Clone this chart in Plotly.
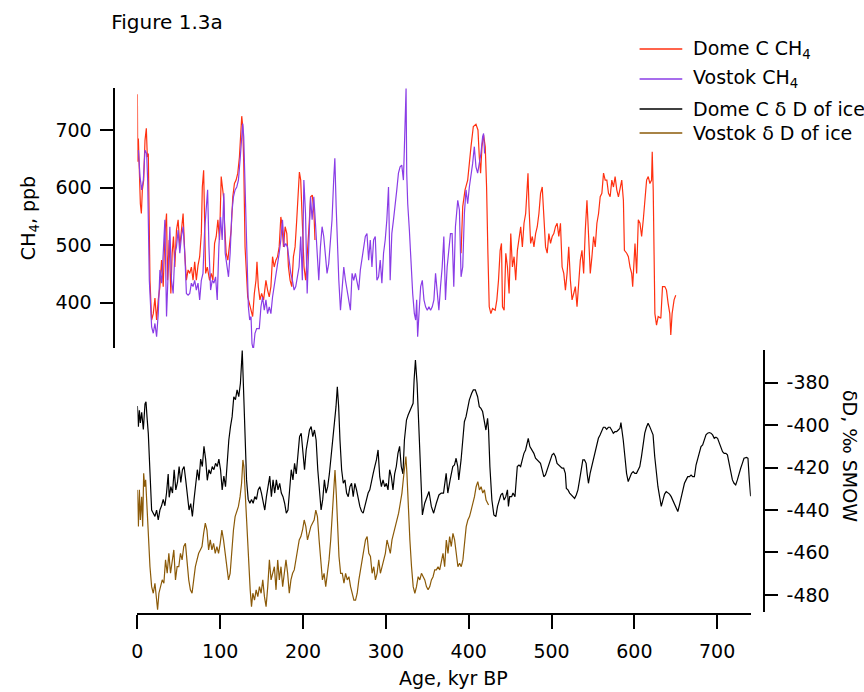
import plotly.graph_objects as go

# ---------------- data ----------------
X_TICKS = [0, 100, 200, 300, 400, 500, 600, 700]
CH4_TICKS = [400, 500, 600, 700]
DD_TICKS = [-480, -460, -440, -420, -400, -380]
DD_TICK_LABELS = ["-480", "-460", "-440", "-420", "-400", "-380"]

# Dome C CH4 (age kyr BP, ppb); None marks the gap in the record
dome_ch4_pts = [
    (0, 762), (0.4, 645), (1.2, 685), (2.4, 619), (3.6, 572), (4.8, 555), (6, 596), (7.6, 613),
    (9.2, 682), (10.8, 703), (12, 653), (13.2, 659), (14, 567), (15.2, 439), (17.2, 370),
    (19.2, 381), (21.2, 408), (23.2, 370), (25.2, 405), (27.2, 428), (29.2, 474), (31.2, 428),
    (33.2, 520), (35.2, 555), (36.4, 439), (38.4, 509), (40.4, 416), (42, 486), (43.6, 515),
    (45.2, 462), (47.2, 526), (49.2, 544), (51.2, 497), (53.2, 532), (55.2, 555), (57.2, 486),
    (59.2, 439), (61.2, 457), (63.2, 451), (65.2, 462), (67.2, 439), (69.2, 471), (71.2, 439),
    (73.2, 465), (75.2, 480), (77.2, 520), (78.4, 601), (80, 630), (81.2, 526), (82.4, 451),
    (84.4, 462), (87.2, 439), (89.2, 451), (91.2, 439), (93.2, 503), (95.2, 515), (97.2, 544),
    (99.2, 509), (101.2, 619), (102.4, 607), (104, 584), (105.2, 538), (107.2, 486), (109.2, 474),
    (111.2, 497), (113.2, 526), (115.2, 584), (117.2, 607), (119.2, 613), (121.2, 625),
    (123.2, 653), (124.4, 694), (126, 724), (127.2, 706), (128.4, 642), (130, 497), (131.6, 439),
    (133.2, 410), (135.2, 399), (137.2, 387), (139.2, 376), (141.2, 416), (143.2, 439),
    (144.4, 471), (146, 428), (148, 405), (150, 416), (152.4, 405), (155.2, 439), (157.2, 422),
    (159.2, 410), (161.2, 428), (163.2, 480), (165.2, 462), (167.2, 474), (169.2, 480),
    (171.2, 497), (173.2, 549), (174.4, 538), (176.4, 497), (178.4, 532), (180.4, 520),
    (182.4, 462), (184.4, 439), (186.4, 428), (188.4, 480), (190.4, 497), (192.4, 544),
    (194, 590), (195.6, 627), (197.2, 613), (199.2, 526), (201.2, 462), (203.2, 439),
    (205.2, 497), (207.2, 532), (209.2, 584), (211.2, 587), (213.2, 555), (214.4, 509),
    (300, None),
    (390.8, 486), (392.8, 567), (395.6, 596), (398.8, 613), (402.8, 671), (405.6, 706),
    (408.8, 710), (411.2, 700), (412.8, 653), (414.4, 625), (416, 671), (418, 691), (420, 671),
    (421.6, 601), (423.2, 486), (424.8, 393), (426.8, 381), (428.8, 390), (432, 387), (434, 405),
    (436, 439), (438, 491), (439.6, 503), (440.8, 393), (442.8, 387), (444.8, 486), (446.8, 462),
    (448.8, 416), (450.8, 520), (452.8, 462), (454.8, 480), (456.8, 439), (458.8, 491),
    (460.8, 515), (462.8, 532), (464.8, 497), (466.8, 538), (468.8, 555), (470.4, 613),
    (471.6, 625), (472.8, 567), (474.8, 503), (476.8, 515), (478.8, 497), (480.8, 520),
    (482.8, 532), (484.8, 555), (486.8, 590), (488.8, 601), (490.8, 549), (492.8, 497),
    (494.8, 486), (496.8, 520), (498.8, 503), (500.8, 515), (502.8, 520), (504.8, 532),
    (506.8, 538), (508.8, 515), (510.8, 538), (512.8, 462), (514.8, 451), (516.8, 422),
    (518.8, 451), (520.8, 497), (522.8, 439), (524.8, 405), (526.8, 416), (528.8, 428),
    (530.8, 393), (532.8, 428), (534.8, 474), (536.8, 491), (538.8, 451), (540.8, 526),
    (542.8, 578), (544.8, 515), (546.8, 451), (548.8, 480), (550.8, 515), (552.8, 497),
    (554.8, 538), (556.8, 555), (558.8, 584), (560.8, 590), (562.8, 625), (564.8, 613),
    (566.8, 613), (568.8, 590), (570.8, 584), (572.8, 613), (574.8, 601), (576.8, 619),
    (578.8, 596), (580.8, 584), (582.8, 601), (584.8, 613), (586.8, 578), (588, 491),
    (590.8, 486), (592.8, 480), (594.8, 462), (596.8, 451), (598, 428), (599.6, 474),
    (600.8, 503), (602.8, 451), (604.8, 544), (606.8, 538), (608.8, 515), (610.8, 544),
    (612.8, 578), (614.8, 613), (616.8, 619), (618.8, 607), (620.8, 613), (621.6, 662),
    (622.8, 596), (624, 439), (624.8, 381), (626.8, 361), (628.8, 376), (632, 373), (634, 428),
    (636.8, 428), (638.8, 422), (640.8, 399), (642.8, 381), (644, 344), (645.6, 381), (648, 405),
    (650, 413),
]

# Vostok CH4 (age kyr BP, ppb)
vostok_ch4_pts = [
    (1.2, 665), (3.2, 619), (5.2, 596), (7.2, 613), (9.2, 665), (11.2, 659), (12.4, 613),
    (13.2, 526), (14.4, 439), (16, 393), (17.2, 358), (19.2, 347), (21.2, 364), (23.2, 341),
    (25.2, 381), (27.2, 457), (29.2, 434), (31.2, 486), (33.2, 544), (35.2, 376), (37.2, 474),
    (39.2, 532), (41.2, 439), (43.2, 416), (45.2, 486), (47.2, 497), (49.2, 526), (51.2, 486),
    (53.2, 515), (55.2, 532), (57.2, 486), (59.2, 416), (61.2, 413), (63.2, 416), (65.2, 434),
    (67.2, 428), (69.2, 439), (71.2, 422), (73.2, 434), (75.2, 405), (77.2, 439), (79.2, 451),
    (81.2, 526), (83.2, 567), (84.8, 596), (86.4, 497), (88.4, 422), (90.4, 439), (92.4, 434),
    (94.4, 445), (96.4, 405), (98.4, 497), (100.4, 549), (102.4, 509), (104.4, 590), (106, 486),
    (108, 462), (110, 445), (112, 486), (114, 555), (116, 584), (118, 596), (120, 601), (122, 613),
    (124, 648), (126, 694), (127.2, 711), (128.4, 688), (129.6, 625), (130.8, 515), (132.4, 439),
    (134, 393), (135.6, 370), (137.2, 376), (138.4, 329), (140, 318), (142, 347), (144, 355),
    (147.2, 355), (149.2, 393), (151.2, 410), (153.2, 387), (155.2, 405), (157.2, 381),
    (159.2, 393), (161.2, 381), (163.2, 410), (165.2, 428), (167.2, 451), (169.2, 462),
    (171.2, 486), (173.2, 509), (175.2, 544), (177.2, 497), (179.2, 503), (181.2, 497),
    (183.2, 474), (185.2, 451), (187.2, 439), (189.2, 422), (191.2, 428), (193.2, 445),
    (195.2, 462), (197.2, 515), (199.2, 439), (201, 613), (203, 555), (205, 416), (207, 520),
    (209, 584), (211, 544), (213, 584), (215, 538), (217, 480), (219, 439), (221, 497), (223, 532),
    (225, 515), (227, 480), (229, 451), (231, 468), (233, 515), (235, 544), (237, 613),
    (238.4, 651), (240, 567), (241.2, 509), (243.2, 439), (245.2, 387), (247.2, 422),
    (249.2, 462), (251.2, 439), (253.2, 422), (255.2, 405), (257.2, 387), (259.2, 451),
    (261.2, 439), (263.2, 451), (265.2, 439), (267.2, 422), (269.2, 457), (271.2, 474),
    (273.2, 497), (275.2, 515), (277.2, 520), (279.2, 474), (281.2, 509), (283.2, 462),
    (285.2, 509), (287.2, 515), (289.2, 439), (291.2, 445), (293.2, 474), (295.2, 434),
    (297.2, 486), (299.2, 509), (301.2, 544), (303.2, 601), (305.2, 439), (307.2, 520),
    (309.2, 544), (311.2, 567), (313.2, 596), (315.2, 625), (317.2, 636), (319.2, 639),
    (321.2, 613), (322.4, 671), (323.6, 752), (324.4, 772), (325.2, 625), (326.4, 572),
    (328.4, 526), (330.4, 462), (332.4, 416), (334.4, 381), (336, 370), (337.2, 405),
    (338.4, 341), (340, 381), (342, 428), (344, 439), (346, 405), (348, 393), (350, 387),
    (352, 393), (354, 387), (356, 393), (358, 405), (360, 451), (362, 416), (364, 387),
    (366, 428), (368, 462), (370, 515), (372, 405), (374, 462), (376, 497), (378, 520),
    (380, 520), (382, 428), (384, 532), (386.8, 578), (388.8, 561), (390.8, 445), (392.8, 462),
    (394.8, 555), (396.8, 596), (398.8, 572), (400.8, 601), (402.8, 619), (404.8, 642),
    (406.8, 671), (408.8, 636), (410.8, 625), (412.8, 642), (414.8, 659), (416.8, 688),
    (418, 694), (419.2, 659),
]

# Dome C deltaD of ice (age kyr BP, permil SMOW)
dome_dd_pts = [
    (0, -391), (1.2, -400.7), (2.4, -393), (3.6, -399), (5.2, -394), (7.2, -402), (9.2, -390),
    (10.4, -389), (11.6, -396), (13.2, -404), (14.4, -415), (15.6, -426), (17.2, -440),
    (19.2, -441.5), (21.2, -443), (23.2, -440), (25.2, -444.7), (27.2, -440), (29.2, -438),
    (31.2, -435), (33.2, -438), (35.2, -432), (37.2, -423), (38.4, -434), (40.4, -429),
    (42.4, -432), (44.4, -421), (46.4, -430.5), (48.4, -427), (50.4, -419.5), (52.4, -427),
    (54.4, -421), (56.4, -419.5), (58.4, -426), (60.4, -434), (62.4, -440), (64.4, -437),
    (66.4, -443), (68.4, -435), (70.4, -429), (72.4, -421), (74.4, -426), (76.4, -416),
    (78.4, -419.5), (80.4, -410), (82.4, -416), (84.4, -426), (86.4, -421), (88.4, -423),
    (90.4, -419.5), (92.4, -421), (94.4, -418), (96.4, -419.5), (98.4, -416), (100.4, -421),
    (102.4, -430.5), (104.4, -424), (106.4, -429), (108.4, -415), (110.4, -407), (112.4, -400.7),
    (114.4, -396), (116.4, -386.6), (118.4, -388), (120.4, -383.4), (122.4, -386.6),
    (124.4, -380.3), (125.8, -369.3), (126.6, -364.8), (127.8, -378.7), (129, -391.3),
    (130.2, -407), (131.8, -425.8), (133.8, -435), (135.8, -436.8), (137.8, -435),
    (139.8, -436.8), (141.8, -433.7), (143.8, -435), (145.8, -430.5), (147.8, -429),
    (149.8, -432), (151.8, -436.8), (153.8, -440), (155.8, -433.7), (157.8, -429),
    (159.8, -424), (161.8, -433.7), (163.8, -425.8), (165.8, -432), (167.8, -425.8),
    (169.8, -430.5), (171.8, -427.4), (173.8, -432), (175.8, -433.7), (177.8, -436.8),
    (179.8, -441.5), (181.8, -440), (183.8, -429), (185.8, -421), (187.8, -425.8),
    (189.8, -418), (191.8, -423), (193.8, -411.7), (195.8, -405.4), (197.8, -403.8),
    (199.8, -411.7), (201.8, -421), (203.8, -411.7), (205.8, -407), (207.8, -402.3),
    (209.8, -400.7), (211.8, -405.4), (213.8, -402.3), (215.8, -407), (217.8, -421),
    (219.8, -432), (221.8, -440), (223.8, -435), (225.8, -425.8), (227.8, -432), (229.8, -429),
    (231.8, -423), (233.8, -415), (235.8, -408.6), (237.8, -400.7), (239.8, -391.3),
    (241.4, -381.9), (243, -391.3), (244.6, -407), (246.6, -421), (248.6, -427.4),
    (250.6, -425.8), (252.6, -432), (254.6, -433.7), (256.6, -429), (258.6, -427.4),
    (260.6, -433.7), (262.6, -427.4), (264.6, -430.5), (266.6, -435), (268.6, -438.3),
    (270.6, -440.6), (272.6, -441.5), (274.6, -438.3), (276.6, -435), (278.6, -432),
    (280.6, -430.5), (282.6, -425.8), (284.6, -423), (286.6, -419.5), (288.6, -416.4),
    (290.6, -411.7), (292.6, -424.3), (294.6, -429), (296.6, -425.8), (298.6, -429),
    (300.6, -427.4), (302.6, -430.5), (304.6, -421), (306.6, -424.3), (308.6, -430.5),
    (310.6, -423), (312.6, -419.5), (314.6, -413.3), (316.6, -410), (318.6, -419.5),
    (320.6, -423), (322.4, -407), (324.9, -397.6), (326.9, -395.2), (330.9, -391.3),
    (332.9, -389.7), (334.1, -378.7), (335.7, -369.3), (337.7, -380.3), (340.1, -407),
    (342.1, -427.4), (344.1, -442.3), (346.9, -436.8), (349.7, -433.7), (352.1, -431.3),
    (354.9, -438.3), (357.7, -441.5), (360.9, -436.8), (364.1, -432.9), (366.9, -432),
    (369.6, -432), (372.8, -422.7), (374.8, -432), (377.6, -425.8), (380.8, -419.5),
    (382.8, -418.8), (384.8, -415.6), (386.8, -419.5), (388, -425.8), (390.8, -416.4),
    (392.8, -407), (394.8, -398.4), (396.8, -396), (398.8, -391.3), (400.8, -388.1),
    (403.6, -385), (405.6, -383.4), (408, -383.4), (410.8, -386.6), (412.8, -391.3),
    (414.8, -392.1), (416.8, -393.6), (418.8, -398.4), (420.8, -402.3), (422.8, -396.8),
    (424, -402.3), (425.6, -419.5), (428, -435.3), (430.4, -442.3), (432.8, -443.1),
    (434.8, -438.3), (436.8, -435.3), (438.8, -432.9), (440.8, -432), (442.8, -435.3),
    (444.8, -433.7), (446.8, -430.5), (448, -438.3), (449.5, -433.7), (451.9, -433.7),
    (453.5, -432), (455.9, -433.7), (458.7, -419.5), (460.7, -418.8), (462.7, -419.5),
    (464.7, -416.4), (466.7, -413.3), (468.7, -411.7), (470.7, -407), (471.9, -406.2),
    (473.9, -410.1), (476.7, -411.7), (478.7, -413.3), (480.7, -415.6), (482.7, -416.4),
    (484.7, -417.2), (486.7, -418), (488.7, -421.1), (490.7, -424.3), (492.7, -423.5),
    (494.7, -421.1), (496.7, -418), (498.7, -416.4), (500.7, -414), (502.7, -413.3),
    (504.7, -414.8), (506.7, -418), (508.7, -418.8), (510.7, -419.5), (512.7, -420.3),
    (514.7, -420.3), (516.7, -422.7), (517.9, -429.8), (519.9, -430.5), (521.9, -432),
    (523.9, -432.9), (525.9, -433.7), (527.9, -434.5), (529.9, -432.9), (531.9, -430.5),
    (533.9, -425.8), (535.9, -421.1), (537.8, -416.4), (539.8, -416.4), (541.8, -418),
    (543, -422.7), (544.6, -427.4), (546.6, -422.7), (548.6, -419.5), (550.6, -416.4),
    (552.6, -412.5), (554.6, -408.6), (556.6, -406.2), (558.6, -404.6), (560.6, -402.3),
    (562.6, -401), (564.6, -401), (566.6, -402), (568.6, -401), (570.6, -401), (572.6, -402.3),
    (574.6, -403.8), (576.6, -403.1), (578.6, -403.1), (580.6, -402.3), (582.6, -401.5),
    (583.8, -398.8), (585.4, -403.1), (586.6, -407), (588.6, -414.8), (590.6, -422.7),
    (592.6, -426.6), (594.6, -424.3), (596.6, -422.7), (598.6, -421.9), (600.6, -422.7),
    (602.6, -422.7), (604.6, -421.1), (606.6, -419.5), (608.6, -414.8), (610.6, -408.6),
    (612.6, -403.8), (614.6, -401), (616.6, -399.1), (618.6, -400.7), (620.6, -403.1),
    (622.6, -404.6), (624.6, -414.8), (626.6, -422.7), (628.5, -429), (630.5, -433.7),
    (632.5, -438.3), (634.5, -435.3), (636.5, -432.5), (638.5, -431.3), (640.5, -431.8),
    (642.5, -432.5), (644.5, -433.7), (646.5, -435.3), (648.5, -436.8), (650.5, -438.3),
    (652.5, -440.7), (654.5, -437.6), (656.5, -433.7), (658.5, -430.5), (660.5, -427.4),
    (662.5, -425.8), (664.5, -424.3), (666.5, -424.3), (668.5, -423.5), (670.5, -424.3),
    (672.5, -424.3), (674.5, -418.8), (676.5, -415.6), (678.5, -412.5), (680.5, -410.1),
    (682.5, -409.3), (684.5, -407), (686.5, -404.6), (688.5, -403.8), (690.5, -403.5),
    (692.5, -403.8), (694.5, -404.6), (696.5, -406.2), (698.5, -405.7), (700.5, -406.2),
    (702.5, -408.6), (704.5, -410.9), (706.5, -412.5), (708.5, -413.3), (710.5, -413.3),
    (712.4, -414), (714.4, -418), (716.4, -422.7), (718.4, -425.8), (720.4, -427.4),
    (722.4, -428.2), (724.4, -425.8), (726.4, -422.7), (728.4, -420.3), (730.4, -418),
    (732.4, -415.6), (735.6, -415.2), (737.2, -415.6), (738.8, -425.8), (740.4, -433.5),
]

# Vostok deltaD of ice (age kyr BP, permil SMOW)
vostok_dd_pts = [
    (0, -430.5), (1.2, -447.8), (2.4, -430.5), (3.6, -444.7), (5.2, -433.7), (6.4, -447.8),
    (7.6, -422.7), (8.8, -429), (10, -425.8), (11.2, -435.3), (12.4, -446.2), (13.6, -454.1),
    (15.2, -466.7), (17.2, -476.1), (19.2, -479.2), (21.2, -474.5), (23.2, -483.9),
    (24.4, -487), (26, -479.2), (28, -476.1), (30, -472.9), (32, -474.5), (34, -463.5),
    (36, -469.8), (38, -460.4), (40, -469.8), (42, -465.1), (44, -458.8), (46, -472.9),
    (48, -466.7), (50, -466.7), (52, -460.4), (54, -463.5), (56, -457.2), (58, -455.7),
    (60, -466.7), (62, -472.9), (64, -477.6), (66, -479.2), (68, -472.9), (70, -466.7),
    (72, -463.5), (74, -460.4), (76, -458.8), (78, -457.2), (80, -451), (82, -446.2),
    (84, -449.4), (86, -458.8), (88, -454.1), (90, -458.8), (92, -455.7), (94, -460.4),
    (96, -457.2), (98, -460.4), (100, -455.7), (102, -449.4), (104, -454.1), (106, -460.4),
    (108, -468.2), (110, -472.9), (112, -469.8), (114, -457.2), (116, -449.4), (118, -443.1),
    (120, -440), (122, -438.3), (124, -433.7), (125.8, -427.4), (127.4, -416.4),
    (128.6, -419.5), (129.8, -429), (131.4, -441.5), (133, -455.7), (134.6, -469.8),
    (136.2, -477.6), (137.8, -485.5), (139.4, -479.2), (141.4, -482.4), (143.4, -477.6),
    (145.4, -480.8), (147.4, -476.1), (149.4, -479.2), (151.4, -472.9), (153.4, -480.8),
    (155.4, -485.5), (157.4, -476.1), (159.4, -463.5), (161.4, -472.9), (163.4, -469.8),
    (165.4, -466.7), (167.4, -477.6), (169.4, -463.5), (171.4, -472.9), (173.4, -466.7),
    (175.4, -476.1), (177.4, -469.8), (179.4, -463.5), (181.4, -469.8), (183.4, -479.2),
    (185.4, -472.9), (187.4, -469.8), (189.4, -468.2), (191.4, -463.5), (193.4, -458.8),
    (195.4, -454.1), (197.4, -452.5), (199.4, -449.4), (201.4, -444.7), (203.4, -447.8),
    (205.4, -454.1), (207.4, -451), (209.4, -447.8), (211.4, -446.2), (213.4, -444.7),
    (215.4, -440), (217.4, -443.1), (219.4, -454.1), (221.4, -463.5), (223.4, -472.9),
    (225.4, -469.8), (227.4, -476.1), (229.4, -469.8), (231.4, -463.5), (233.4, -454.1),
    (235.4, -443.1), (237, -430.5), (238.6, -421.1), (240.2, -432.9), (241.8, -447.8),
    (243.4, -461.9), (245.4, -469.8), (247.4, -469.8), (249.4, -474.5), (251.4, -469.8),
    (253.4, -472.9), (255.4, -471.4), (257.4, -476.1), (259.4, -479.2), (261.4, -482.4),
    (263.4, -482.4), (265.4, -479.2), (267.4, -472.9), (269.4, -468.2), (271.4, -461.9),
    (273.4, -458.8), (275.4, -454.1), (277.4, -452.5), (279.4, -460.4), (281.4, -461.9),
    (283.4, -469.8), (285.4, -466.7), (287.4, -472.9), (289.4, -469.8), (291.4, -463.5),
    (293.4, -469.8), (295.4, -466.7), (297.4, -463.5), (299.4, -460.4), (301.4, -454.1),
    (303.4, -457.2), (305.4, -460.4), (307.4, -454.1), (309.4, -451), (311.4, -447.8),
    (313.4, -444.7), (315.4, -441.5), (317.4, -436.8), (319.4, -432), (321.4, -424.3),
    (323, -416.4), (324.2, -414.8), (325.4, -422.7), (327, -438.3), (329, -454.1),
    (331, -466.7), (333, -476.1), (335, -479.2), (337, -476.1), (339, -471.4), (341, -472.9),
    (343, -469.8), (345, -471.4), (347, -472.9), (349, -476.1), (351, -477.6), (353, -476.1),
    (355, -472.9), (357, -471.4), (359, -468.2), (361, -468.2), (363, -466.7), (365, -468.2),
    (367, -463.5), (369, -460.4), (371, -466.7), (373, -454.1), (375, -460.4), (377, -452.5),
    (379, -457.2), (381, -451), (383, -454.1), (385, -461.9), (387, -466.7), (389, -465.1),
    (391, -466.7), (393, -463.5), (395, -454.1), (397, -447.8), (399, -444.7), (401, -443.1),
    (403, -440), (405, -436.8), (407, -433.7), (409, -429), (411, -426.6), (413, -430.5),
    (415, -429), (417, -432), (419, -430.5), (421, -435.3), (423, -436.8), (424, -437.6),
]

SERIES_NAMES = ["Dome C CH<sub>4</sub>", "Vostok CH<sub>4</sub>",
                "Dome C \u03b4 D of ice", "Vostok \u03b4 D of ice"]
COLORS = ["#ff3010", "#8a3de6", "#000000", "#8b5a08"]

# ---------------- figure ----------------
W, H = 864, 692
FONT = "DejaVu Sans"
FS = 19


def fx(p):
    return p / W


def fy(p):
    return 1 - p / H


def split(pts):
    return [p[0] for p in pts], [p[1] for p in pts]


fig = go.Figure()
for pts, color, ax in [(dome_ch4_pts, COLORS[0], "y"), (vostok_ch4_pts, COLORS[1], "y"),
                       (dome_dd_pts, COLORS[2], "y2"), (vostok_dd_pts, COLORS[3], "y2")]:
    xs, ys = split(pts)
    fig.add_trace(go.Scatter(x=xs, y=ys, mode="lines", yaxis=ax, xaxis="x",
                             line=dict(color=color, width=1.2), connectgaps=False,
                             showlegend=False, hoverinfo="skip"))

axis_common = dict(showline=True, linecolor="black", linewidth=1.5, ticks="outside",
                   tickcolor="black", tickwidth=1.5, showgrid=False, zeroline=False,
                   tickfont=dict(family=FONT, size=FS, color="black"))
title_font = dict(family=FONT, size=FS, color="black")

fig.update_layout(
    width=W, height=H, margin=dict(l=0, r=0, t=0, b=0),
    paper_bgcolor="white", plot_bgcolor="white", showlegend=False,
    font=dict(family=FONT, size=FS, color="black"),
    title=dict(text="Figure 1.3a", x=fx(106), xref="paper", xanchor="left",
               y=fy(22), yref="paper", yanchor="middle",
               font=dict(family=FONT, size=20, color="black")),
    xaxis=dict(domain=[fx(132.3), fx(750)], range=[0, 740.6], anchor="free",
               position=fy(614), tickvals=X_TICKS, ticktext=[str(v) for v in X_TICKS],
               ticklen=14, ticklabelstandoff=6, **axis_common),
    yaxis=dict(domain=[fy(348), fy(88)], range=[321.4, 772.9], anchor="free",
               position=fx(109), tickvals=CH4_TICKS, ticktext=[str(v) for v in CH4_TICKS],
               ticklen=13, ticklabelstandoff=5,
               title=dict(text="CH<sub>4</sub>, ppb", font=title_font, standoff=14),
               **axis_common),
    yaxis2=dict(domain=[fy(611.7), fy(350)], range=[-487.9, -364.6], anchor="free",
                position=fx(763.3), side="right", tickvals=DD_TICKS, ticktext=DD_TICK_LABELS,
                ticklen=13, ticklabelstandoff=5, **axis_common),
)

annotations = [
    dict(text="\u03b4D, \u2030 SMOW", x=fx(850), y=fy(456), textangle=90,
         xanchor="center", yanchor="middle", font=title_font),
    dict(text="Age, kyr BP", x=fx(451), y=fy(678), xanchor="center", yanchor="middle",
         font=title_font),
]
legend_rows = [49, 79, 109, 133]
shapes = []
for name, color, yrow in zip(SERIES_NAMES, COLORS, legend_rows):
    shapes.append(dict(type="line", xref="paper", yref="paper", x0=fx(638), x1=fx(681),
                       y0=fy(yrow), y1=fy(yrow), line=dict(color=color, width=1.5)))
    annotations.append(dict(text=name, x=fx(690), y=fy(yrow), xanchor="left",
                            yanchor="middle", font=title_font))
for a in annotations:
    a.update(xref="paper", yref="paper", showarrow=False)
fig.update_layout(annotations=annotations, shapes=shapes)

fig.write_html("out.html")
